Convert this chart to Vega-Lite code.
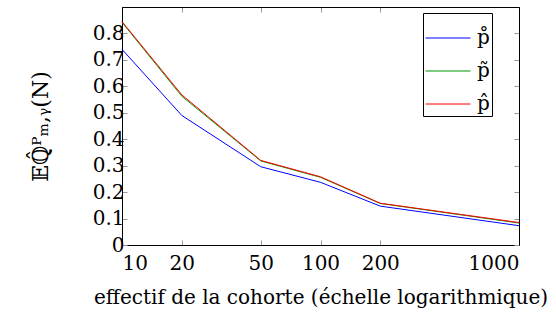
{
  "$schema": "https://vega.github.io/schema/vega-lite/v6.json",
  "autosize": {"type": "none"},
  "padding": {"left": 122, "top": 7, "right": 37, "bottom": 77},
  "width": 397,
  "height": 238,
  "config": {
    "font": "DejaVu Serif",
    "view": {"stroke": "black", "strokeWidth": 1},
    "axis": {"grid": false, "domainColor": "black", "tickColor": "#999999", "labelColor": "black", "titleColor": "black", "labelFont": "DejaVu Serif", "titleFont": "DejaVu Serif", "labelFontSize": 20, "titleFontSize": 20, "titleFontWeight": "normal", "tickSize": -5, "labelOverlap": false}
  },
  "data": {"values": [
    {"s": "p̊", "n": 10, "v": 0.74},
    {"s": "p̊", "n": 20, "v": 0.49},
    {"s": "p̊", "n": 50, "v": 0.296},
    {"s": "p̊", "n": 100, "v": 0.237},
    {"s": "p̊", "n": 200, "v": 0.147},
    {"s": "p̊", "n": 1000, "v": 0.073},
    {"s": "p̃", "n": 10, "v": 0.842},
    {"s": "p̃", "n": 20, "v": 0.563},
    {"s": "p̃", "n": 50, "v": 0.318},
    {"s": "p̃", "n": 100, "v": 0.256},
    {"s": "p̃", "n": 200, "v": 0.157},
    {"s": "p̃", "n": 1000, "v": 0.083},
    {"s": "p̂", "n": 10, "v": 0.845},
    {"s": "p̂", "n": 20, "v": 0.568},
    {"s": "p̂", "n": 50, "v": 0.32},
    {"s": "p̂", "n": 100, "v": 0.258},
    {"s": "p̂", "n": 200, "v": 0.158},
    {"s": "p̂", "n": 1000, "v": 0.085}
  ]},
  "layer": [
    {
      "mark": {"type": "line", "strokeWidth": 1},
      "encoding": {
        "x": {"field": "n", "type": "quantitative", "scale": {"type": "log", "domain": [10, 1000]},
              "axis": {"values": [10, 20, 50, 100, 200, 1000], "title": "effectif de la cohorte (échelle logarithmique)", "labelPadding": 13, "titlePadding": 14, "format": "d"}},
        "y": {"field": "v", "type": "quantitative", "scale": {"domain": [0, 0.9], "nice": false},
              "axis": {"values": [0, 0.1, 0.2, 0.3, 0.4, 0.5, 0.6, 0.7, 0.8], "labelExpr": "datum.value == 0 ? '0' : format(datum.value, '.1f')", "title": "𝔼ℚ̂ᴾₘ,ᵧ(N)", "titleFontSize": 22, "titlePadding": 40, "labelPadding": 3}},
        "color": {"field": "s", "type": "nominal",
                  "scale": {"domain": ["p̊", "p̃", "p̂"], "range": ["#0000ff", "#009900", "#ff0000"]},
                  "legend": {"title": null, "orient": "none", "legendX": 301, "legendY": 6, "symbolType": "stroke", "symbolSize": 2025, "symbolStrokeWidth": 1, "labelFontSize": 20, "labelFont": "DejaVu Serif", "rowPadding": -7, "strokeColor": "black", "padding": 2, "labelOffset": 6, "fillColor": "white"}},
        "order": {"field": "s", "sort": "descending"}
      }
    },
    {
      "mark": {"type": "point", "opacity": 0},
      "encoding": {
        "x": {"field": "n", "type": "quantitative", "scale": {"type": "log", "domain": [10, 1000]},
              "axis": {"values": [10, 20, 50, 100, 200, 1000], "labels": false, "title": null, "orient": "top"}},
        "y": {"field": "v", "type": "quantitative", "scale": {"domain": [0, 0.9], "nice": false},
              "axis": {"values": [0, 0.1, 0.2, 0.3, 0.4, 0.5, 0.6, 0.7, 0.8], "labels": false, "title": null, "orient": "right"}}
      }
    }
  ],
  "resolve": {"axis": {"x": "independent", "y": "independent"}}
}
